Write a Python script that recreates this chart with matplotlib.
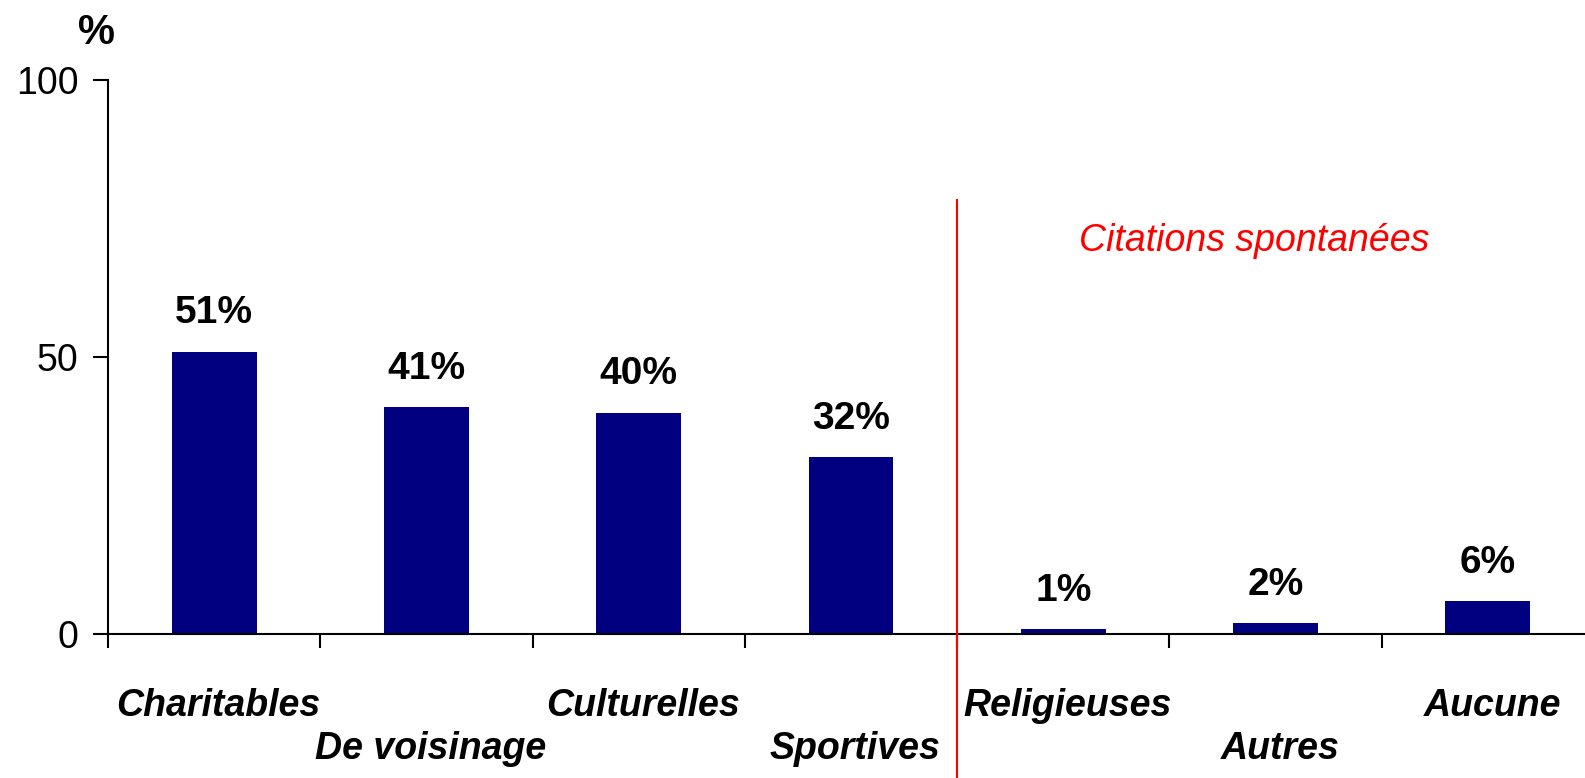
import matplotlib.pyplot as plt
import numpy as np

# ---- Data ----
categories = ['Charitables', 'De voisinage', 'Culturelles', 'Sportives',
              'Religieuses', 'Autres', 'Aucune']
values = [51, 41, 40, 32, 1, 2, 6]
value_labels = ['51%', '41%', '40%', '32%', '1%', '2%', '6%']
y_ticks = [0, 50, 100]

plt.rcParams['font.family'] = ['Liberation Sans', 'DejaVu Sans']

fig = plt.figure(figsize=(15.85, 7.78), dpi=100)
ax = fig.add_axes([0.0681, 0.1845, 0.9376, 0.7129])

x = np.arange(len(categories))
ax.bar(x, values, width=0.4, color='#000080', zorder=2)

ax.set_xlim(-0.5, len(categories) - 0.5)
ax.set_ylim(0, 100)

for spine in ['top', 'right']:
    ax.spines[spine].set_visible(False)
ax.spines['left'].set_linewidth(1.5)
ax.spines['bottom'].set_linewidth(1.5)

ax.set_yticks(y_ticks)
ax.set_yticklabels([str(v) for v in y_ticks], fontsize=27)
ax.tick_params(axis='y', direction='out', length=11, width=1.5, pad=10)

# ticks at category boundaries, labels staggered below
ax.set_xticks(np.arange(len(categories) + 1) - 0.5)
ax.set_xticklabels([])
ax.tick_params(axis='x', direction='out', length=10, width=1.5)

for i, cat in enumerate(categories):
    off = 51.5 if i % 2 == 0 else 82.5
    ax.annotate(cat, (i, 0), xytext=(3, -off), textcoords='offset points',
                xycoords='data', ha='center', va='center', fontsize=27,
                fontweight='bold', fontstyle='italic', annotation_clip=False)

for i, (v, lab) in enumerate(zip(values, value_labels)):
    ax.annotate(lab, (i, v), xytext=(0, 27.5), textcoords='offset points',
                ha='center', va='center', fontsize=28, fontweight='bold')

# split line for spontaneous answers
ax.plot([3.5, 3.5], [78.3, -40], color='red', lw=1.5, clip_on=False, zorder=3)
ax.text(4.9, 71, 'Citations spontanées', color='red', fontsize=27,
        fontstyle='italic', ha='center', va='center')

fig.text(0.061, 0.957, '%', fontsize=30, fontweight='bold',
         ha='center', va='center')

fig.savefig('out.png', dpi=100)
